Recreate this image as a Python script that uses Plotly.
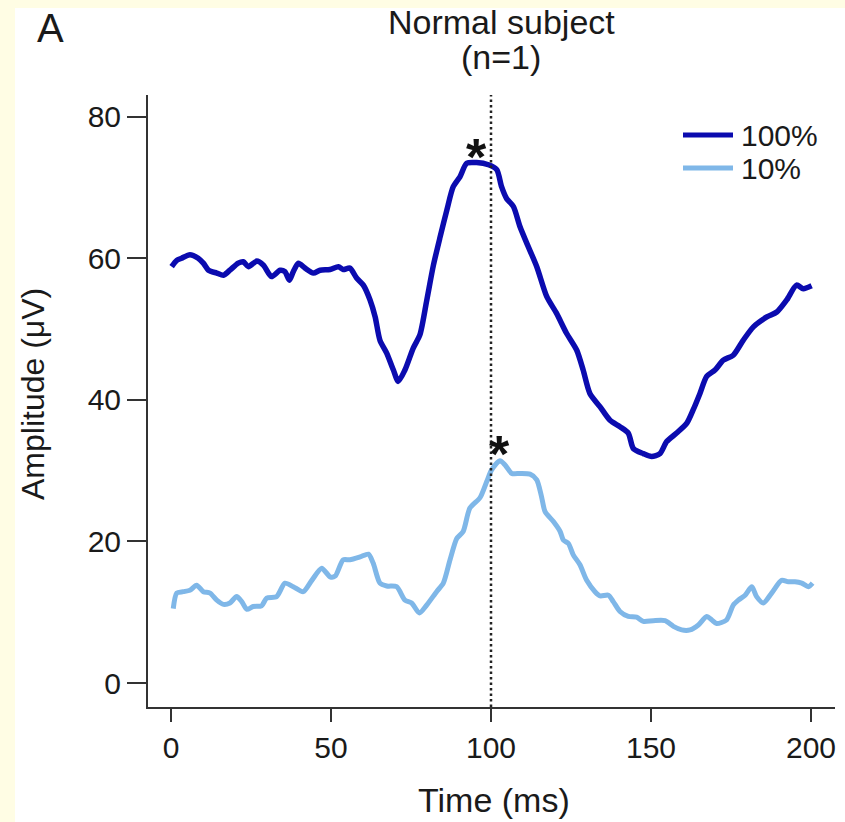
import plotly.graph_objects as go

# ---- data ----
t_100 = [0.2, 1.8, 3.3, 5.9, 8.5, 10.1, 11.7, 14.3, 16.4, 18.4,
         21, 22.6, 24.2, 26.8, 28.9, 31.4, 34.1, 35.6, 37, 38.2,
         39.8, 41.9, 44.5, 46.6, 49.7, 52.3, 53.8, 55.9, 58, 60.1,
         62.2, 63.8, 65.3, 67.4, 69.5, 71, 73.1, 75.7, 77.8, 79.9,
         82, 84.1, 86.2, 88.2, 90.3, 92.4, 95.5, 99.2, 101.8, 103.3,
         104.9, 107, 109.1, 111.2, 114.3, 117.4, 120.5, 123.6, 126.8, 128.8,
         130.9, 134.1, 137.2, 140.3, 142.9, 144.5, 147.6, 150.2, 152.8, 154.9,
         158, 161.2, 163.2, 165.3, 167.4, 170, 172.6, 175.7, 178.8, 182,
         186.2, 189.3, 192.4, 195.5, 197.6, 200.2]
amp_100 = [58.8, 59.7, 60.0, 60.5, 60.0, 59.3, 58.3, 57.9, 57.6, 58.3,
           59.3, 59.5, 58.8, 59.6, 59.0, 57.4, 58.3, 58.1, 56.9, 58.1,
           59.3, 58.6, 57.9, 58.3, 58.4, 58.8, 58.4, 58.6, 57.2, 56.2,
           54.1, 51.7, 48.4, 46.6, 44.2, 42.6, 44.2, 47.3, 49.2, 54.0,
           59.0, 63.0, 66.8, 70.1, 71.5, 73.4, 73.5, 73.2, 72.5, 70.1,
           68.4, 67.3, 64.4, 62.1, 58.8, 54.6, 52.2, 49.4, 47.0, 44.2,
           40.9, 39.0, 37.1, 36.2, 35.3, 33.1, 32.4, 32.0, 32.4, 34.1,
           35.3, 36.7, 38.6, 40.9, 43.3, 44.2, 45.6, 46.3, 48.4, 50.3,
           51.7, 52.4, 54.1, 56.2, 55.7, 56.1]

t_10 = [0.7, 1.8, 3.8, 5.9, 8.0, 10.1, 12.2, 14.3, 16.4, 18.4,
        20.5, 22.1, 23.7, 25.7, 28.3, 29.9, 33.0, 35.6, 38.2, 41.3,
        44.0, 47.1, 49.7, 51.3, 53.8, 55.9, 59.1, 61.7, 63.2, 65.3,
        67.4, 70.5, 73.1, 75.2, 77.6, 79.9, 83.0, 85.1, 87.2, 89.3,
        91.3, 93.4, 96.6, 98.7, 100.2, 102.8, 104.4, 106.5, 109.1, 112.2,
        114.3, 115.8, 116.9, 119.5, 121.6, 122.6, 124.2, 125.7, 127.8, 129.9,
        132.5, 134.1, 136.7, 138.2, 140.3, 142.9, 145.5, 147.6, 150.7, 154.4,
        157, 159.6, 162.2, 164.8, 167.4, 169, 170.5, 173.6, 175.7, 177.3,
        179.4, 181.5, 183, 185.1, 187.7, 190.8, 192.9, 195, 197.1, 199.2,
        200.5]
amp_10 = [10.5, 12.7, 12.9, 13.1, 13.8, 12.9, 12.7, 11.7, 11.1, 11.3,
          12.2, 11.5, 10.4, 10.8, 10.9, 12.0, 12.2, 14.1, 13.6, 12.9,
          14.5, 16.2, 15.0, 15.1, 17.4, 17.4, 17.8, 18.2, 16.9, 14.1,
          13.7, 13.6, 11.7, 11.3, 9.9, 11.0, 12.9, 14.1, 17.4, 20.4,
          21.4, 24.7, 26.2, 28.5, 30.1, 31.4, 30.8, 29.6, 29.6, 29.5,
          28.7, 26.3, 24.2, 22.8, 21.4, 20.2, 19.7, 18.1, 16.7, 14.5,
          12.9, 12.3, 12.4, 11.5, 10.1, 9.4, 9.3, 8.7, 8.8, 8.8,
          8.0, 7.5, 7.5, 8.2, 9.4, 8.9, 8.4, 8.9, 11.0, 11.7,
          12.4, 13.6, 12.2, 11.3, 12.7, 14.5, 14.3, 14.3, 14.1, 13.6,
          14.1]

series_names = ["100%", "10%"]
series_colors = ["#0B0BAF", "#7FB7E8"]
star_t = [95.5, 102.8]
star_amp = [75.3, 33.3]
marker_time = 100
x_ticks = [0, 50, 100, 150, 200]
y_ticks = [0, 20, 40, 60, 80]

FONT = "Liberation Sans, Arial, Helvetica, sans-serif"
TXT = "#1a1a1a"
YELLOW = "#FFFDE4"

# page body margin is removed, so the figure fills the whole window
W, H = 845, 822
L, R, T, B = 148, 10, 95, 115
PW, PH = W - L - R, H - T - B


def px_x(px):  # page pixel -> paper x
    return (px - L) / PW


def px_y(py):  # page pixel -> paper y
    return (H - B - py) / PH


fig = go.Figure()
fig.add_trace(go.Scatter(x=t_100, y=amp_100, mode="lines", name=series_names[0],
                         line=dict(color=series_colors[0], width=5.5, shape="spline", smoothing=0.7),
                         showlegend=False))
fig.add_trace(go.Scatter(x=t_10, y=amp_10, mode="lines", name=series_names[1],
                         line=dict(color=series_colors[1], width=5, shape="spline", smoothing=0.7),
                         showlegend=False))

# pale yellow strips along the top and left edges
fig.add_shape(type="rect", xref="paper", yref="paper",
              x0=px_x(0), x1=px_x(15), y0=px_y(H), y1=px_y(0),
              fillcolor=YELLOW, line_width=0, layer="below")
fig.add_shape(type="rect", xref="paper", yref="paper",
              x0=px_x(0), x1=px_x(W), y0=px_y(8), y1=px_y(0),
              fillcolor=YELLOW, line_width=0, layer="below")

# vertical dotted line at 100 ms
fig.add_shape(type="line", xref="x", yref="paper", x0=marker_time, x1=marker_time,
              y0=0, y1=1, line=dict(color="#222222", width=2.5, dash="2.5px,3px"))

# legend drawn in the top-right corner
for i, (nm, col) in enumerate(zip(series_names, series_colors)):
    yy = px_y([135, 168][i])
    fig.add_shape(type="line", xref="paper", yref="paper", x0=px_x(683), x1=px_x(733),
                  y0=yy, y1=yy, line=dict(color=col, width=5))
    fig.add_annotation(xref="paper", yref="paper", x=px_x(739), y=yy, text=nm,
                       showarrow=False, xanchor="left", yanchor="middle",
                       font=dict(size=30, color=TXT, family=FONT))

# asterisks at the peaks
for tx, ay in zip(star_t, star_amp):
    fig.add_annotation(x=tx, y=ay, text="<b>*</b>", showarrow=False,
                       xanchor="center", yanchor="middle", yshift=-7,
                       font=dict(size=52, color="#111111", family=FONT))

# titles
fig.add_annotation(xref="paper", yref="paper", x=px_x(501), y=px_y(22), text="Normal subject",
                   showarrow=False, xanchor="center", yanchor="middle",
                   font=dict(size=34, color=TXT, family=FONT))
fig.add_annotation(xref="paper", yref="paper", x=px_x(501), y=px_y(57), text="(n=1)",
                   showarrow=False, xanchor="center", yanchor="middle",
                   font=dict(size=34, color=TXT, family=FONT))
fig.add_annotation(xref="paper", yref="paper", x=px_x(50), y=px_y(28), text="A",
                   showarrow=False, xanchor="center", yanchor="middle",
                   font=dict(size=40, color=TXT, family=FONT))
fig.add_annotation(xref="paper", yref="paper", x=px_x(494), y=px_y(800), text="Time (ms)",
                   showarrow=False, xanchor="center", yanchor="middle",
                   font=dict(size=34, color=TXT, family=FONT))
fig.add_annotation(xref="paper", yref="paper", x=px_x(33), y=px_y(394), text="Amplitude (μV)",
                   textangle=-90, showarrow=False, xanchor="center", yanchor="middle",
                   font=dict(size=32, color=TXT, family=FONT))

axis_common = dict(showgrid=False, zeroline=False, showline=True, linecolor="#333333",
                   linewidth=2, ticks="outside", tickwidth=1.5,
                   tickcolor="#333333", tickfont=dict(size=30, color=TXT, family=FONT))

fig.update_xaxes(range=[-7.19, 207.5], tickvals=x_ticks, ticklen=13, **axis_common)
fig.update_yaxes(range=[-3.39, 83.05], tickvals=y_ticks, ticklen=19, **axis_common)

fig.update_layout(width=W, height=H,
                  margin=dict(l=L, r=R, t=T, b=B),
                  paper_bgcolor="white", plot_bgcolor="white",
                  font=dict(family=FONT, color=TXT))

fig.write_html("out.html", config={"displayModeBar": False},
               post_script="document.body.style.margin='0';")
